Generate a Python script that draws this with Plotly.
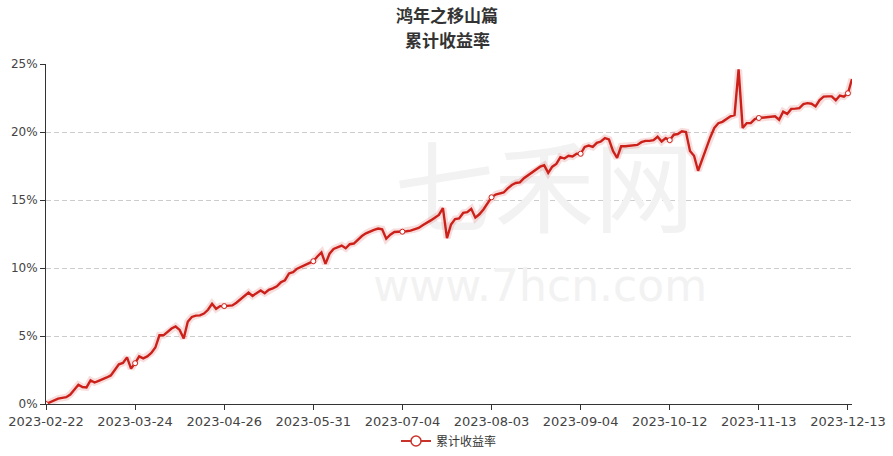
import pandas as pd
import plotly.graph_objects as go

# ---------------- data ----------------
title_main = "鸿年之移山篇"
title_sub = "累计收益率"
series_name = "累计收益率"

# Chinese exchange holidays falling on weekdays inside the period
holidays = ["2023-04-05", "2023-05-01", "2023-05-02", "2023-05-03",
            "2023-06-22", "2023-06-23", "2023-09-29", "2023-10-02",
            "2023-10-03", "2023-10-04", "2023-10-05", "2023-10-06"]
_days = pd.bdate_range("2023-02-22", "2023-12-14")
dates = [d.strftime("%Y-%m-%d") for d in _days if d.strftime("%Y-%m-%d") not in holidays]

# cumulative return, %
returns = [
    0.00, 0.15, 0.30, 0.40, 0.45, 0.50, 0.70, 1.05, 1.42, 1.25,
    1.22, 1.74, 1.58, 1.70, 1.80, 1.95, 2.10, 2.55, 2.92, 3.02,
    3.43, 2.60, 3.00, 3.50, 3.35, 3.50, 3.75, 4.15, 5.05, 5.05,
    5.30, 5.55, 5.70, 5.45, 4.82, 6.05, 6.40, 6.50, 6.52, 6.65,
    6.93, 7.37, 7.00, 7.20, 7.20, 7.20, 7.25, 7.45, 7.70, 7.95,
    8.20, 7.95, 8.15, 8.35, 8.15, 8.40, 8.50, 8.65, 8.95, 9.10,
    9.60, 9.70, 9.95, 10.10, 10.25, 10.35, 10.50, 10.85, 11.15, 10.30,
    11.05, 11.40, 11.50, 11.65, 11.45, 11.75, 11.80, 12.10, 12.35, 12.55,
    12.70, 12.80, 12.90, 12.85, 12.15, 12.45, 12.65, 12.65, 12.67, 12.70,
    12.75, 12.85, 12.95, 13.15, 13.30, 13.50, 13.70, 13.90, 14.40, 12.20,
    13.20, 13.60, 13.65, 14.05, 14.10, 14.35, 13.70, 13.95, 14.30, 14.80,
    15.20, 15.40, 15.50, 15.55, 15.85, 16.10, 16.25, 16.30, 16.60, 16.80,
    17.00, 17.20, 17.45, 17.55, 17.00, 17.45, 17.65, 18.15, 18.05, 18.25,
    18.20, 18.40, 18.40, 18.90, 19.00, 18.90, 19.20, 19.30, 19.55, 19.45,
    18.60, 18.10, 18.95, 18.95, 19.00, 19.00, 19.05, 19.25, 19.35, 19.35,
    19.40, 19.65, 19.30, 19.55, 19.40, 19.80, 19.85, 20.05, 20.00, 18.60,
    18.25, 17.15, 18.00, 18.90, 19.60, 20.30, 20.65, 20.75, 20.95, 21.15,
    21.25, 24.60, 20.30, 20.65, 20.65, 20.95, 21.03, 21.05, 21.08, 21.10,
    21.15, 20.90, 21.50, 21.33, 21.70, 21.72, 21.75, 22.05, 22.12, 22.08,
    21.88, 22.35, 22.60, 22.62, 22.62, 22.33, 22.68, 22.60, 22.85, 23.90,
]

label_step = 22
tick_dates = dates[::label_step]
y_ticks = [0, 5, 10, 15, 20, 25]
y_labels = [f"{v}%" for v in y_ticks]

marker_dates = dates[::label_step]
marker_values = returns[::label_step]

# ---------------- style ----------------
RED = "#cc211a"
AXIS = "#333333"
LABEL = "#444444"
X_TICK_FONT = dict(family="DejaVu Sans", size=13, color=LABEL)
Y_TICK_FONT = dict(family="DejaVu Sans", size=12, color=LABEL)
CJK = "Noto Sans CJK SC"

fig = go.Figure()

# faint site watermark (drawn first, under the data)
fig.add_trace(go.Scatter(
    x=[dates[123], dates[122]], y=[15.0, 8.4],
    mode="text", text=["七禾网", "www.7hcn.com"],
    textfont=dict(family=[CJK, "DejaVu Sans"], size=[100, 44], color="#f2f2f2"),
    hoverinfo="skip", showlegend=False, cliponaxis=False,
))

# soft glow under the line
fig.add_trace(go.Scatter(
    x=dates, y=returns, mode="lines",
    line=dict(color="rgba(210,30,25,0.15)", width=7),
    hoverinfo="skip", showlegend=False,
))
# main line
fig.add_trace(go.Scatter(
    x=dates, y=returns, mode="lines", name=series_name,
    line=dict(color=RED, width=2.4),
    showlegend=False,
))
# symbols shown at the labelled categories
fig.add_trace(go.Scatter(
    x=marker_dates, y=marker_values, mode="markers",
    marker=dict(size=5, color="white", line=dict(color=RED, width=1)),
    hoverinfo="skip", showlegend=False,
))
# legend entry
fig.add_trace(go.Scatter(
    x=[None], y=[None], mode="lines+markers", name=series_name,
    line=dict(color="#c8332c", width=2),
    marker=dict(size=10, color="white", line=dict(color="#c8332c", width=1.5)),
))

L, R, T, B = 46, 41, 64, 52
PH = 456 - T - B

def py(ypix):
    return (456 - B - ypix) / PH

title_font = dict(family=CJK, size=17, color="#333333", weight="bold")
fig.update_layout(
    width=893, height=456,
    margin=dict(l=L, r=R, t=T, b=B, pad=0, autoexpand=False),
    paper_bgcolor="white", plot_bgcolor="white",
    font=dict(family="DejaVu Sans", size=12, color=LABEL),
    showlegend=True,
    legend=dict(orientation="h", x=0.5, xanchor="center", y=py(441), yanchor="middle",
                font=dict(family=CJK, size=12, color="#333333"),
                bgcolor="rgba(0,0,0,0)"),
    annotations=[
        dict(text=title_main, xref="paper", yref="paper",
             x=0.498, y=py(14.5), xanchor="center", yanchor="middle",
             showarrow=False, borderpad=0, font=title_font),
        dict(text=title_sub, xref="paper", yref="paper",
             x=0.498, y=py(39.3), xanchor="center", yanchor="middle",
             showarrow=False, borderpad=0, font=title_font),
    ],
)

fig.update_xaxes(
    type="category", categoryorder="array", categoryarray=dates,
    range=[0, len(dates) - 1],
    tickmode="array", tickvals=tick_dates, ticktext=tick_dates,
    ticks="outside", ticklen=5, tickcolor=AXIS, tickwidth=1,
    showline=True, linecolor=AXIS, linewidth=1,
    showgrid=False, zeroline=False, tickfont=X_TICK_FONT, tickangle=0,
)
fig.update_yaxes(
    range=[0, 25], tickmode="array", tickvals=y_ticks, ticktext=y_labels,
    ticks="outside", ticklen=5, tickcolor=AXIS, tickwidth=1,
    showline=True, linecolor=AXIS, linewidth=1,
    showgrid=True, gridcolor="#cccccc", gridwidth=1, griddash="5px,3px",
    zeroline=False, tickfont=Y_TICK_FONT,
)

fig.write_html("out.html", config={"displayModeBar": False},
               post_script="document.body.style.margin='0px';")
